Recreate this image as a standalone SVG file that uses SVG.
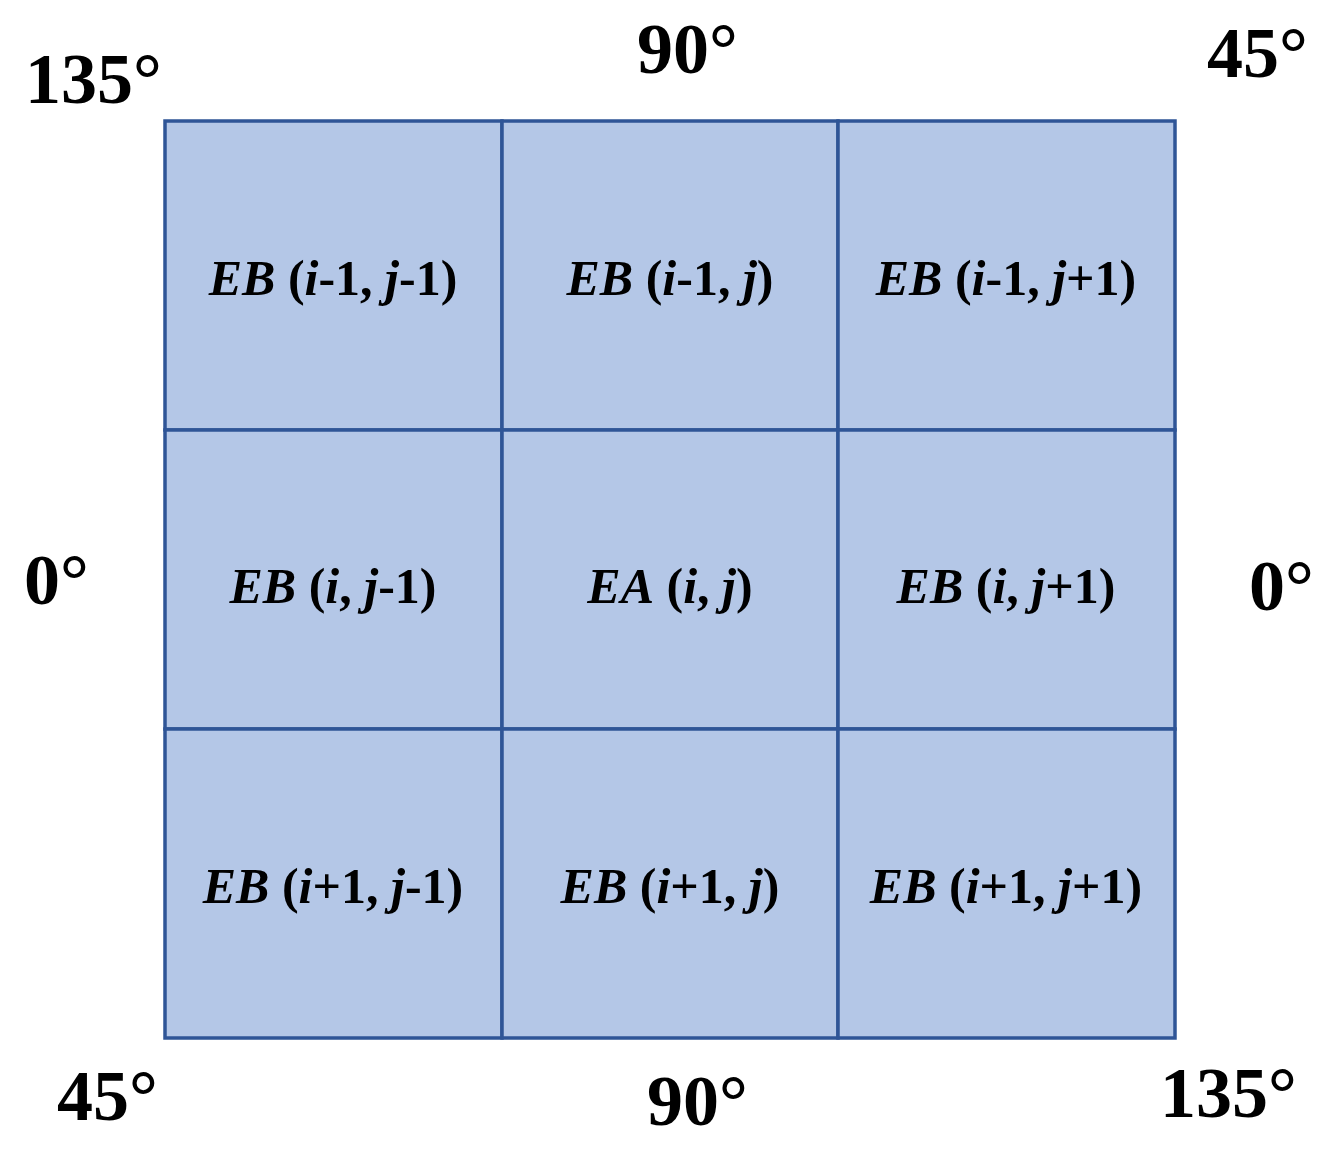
<svg xmlns="http://www.w3.org/2000/svg" width="1336" height="1160" viewBox="0 0 1336 1160">
<style>
.cell{fill:#b4c7e7;stroke:#2f5597;stroke-width:3.5}
.lbl{font-family:"Times New Roman",Tinos,"Liberation Serif",Times,serif;font-weight:bold;font-size:50px;fill:#000;text-anchor:middle}
.it{font-style:italic}
.deg{font-family:"Times New Roman",Tinos,"Liberation Serif",Times,serif;font-weight:bold;font-size:72px;fill:#000}
</style>
<rect x="0" y="0" width="1336" height="1160" fill="#fff"/>
<g id="n00"><rect class="cell" x="165" y="121" width="337" height="309"/><text class="lbl" x="333" y="295"><tspan class="it">EB</tspan> (<tspan class="it">i</tspan>-1, <tspan class="it">j</tspan>-1)</text></g>
<g id="n01"><rect class="cell" x="502" y="121" width="336" height="309"/><text class="lbl" x="670" y="295"><tspan class="it">EB</tspan> (<tspan class="it">i</tspan>-1, <tspan class="it">j</tspan>)</text></g>
<g id="n02"><rect class="cell" x="838" y="121" width="337" height="309"/><text class="lbl" x="1006" y="295"><tspan class="it">EB</tspan> (<tspan class="it">i</tspan>-1, <tspan class="it">j</tspan>+1)</text></g>
<g id="n10"><rect class="cell" x="165" y="430" width="337" height="299"/><text class="lbl" x="333" y="603"><tspan class="it">EB</tspan> (<tspan class="it">i</tspan>, <tspan class="it">j</tspan>-1)</text></g>
<g id="n11"><rect class="cell" x="502" y="430" width="336" height="299"/><text class="lbl" x="670" y="603"><tspan class="it">EA</tspan> (<tspan class="it">i</tspan>, <tspan class="it">j</tspan>)</text></g>
<g id="n12"><rect class="cell" x="838" y="430" width="337" height="299"/><text class="lbl" x="1006" y="603"><tspan class="it">EB</tspan> (<tspan class="it">i</tspan>, <tspan class="it">j</tspan>+1)</text></g>
<g id="n20"><rect class="cell" x="165" y="729" width="337" height="309"/><text class="lbl" x="333" y="903"><tspan class="it">EB</tspan> (<tspan class="it">i</tspan>+1, <tspan class="it">j</tspan>-1)</text></g>
<g id="n21"><rect class="cell" x="502" y="729" width="336" height="309"/><text class="lbl" x="670" y="903"><tspan class="it">EB</tspan> (<tspan class="it">i</tspan>+1, <tspan class="it">j</tspan>)</text></g>
<g id="n22"><rect class="cell" x="838" y="729" width="337" height="309"/><text class="lbl" x="1006" y="903"><tspan class="it">EB</tspan> (<tspan class="it">i</tspan>+1, <tspan class="it">j</tspan>+1)</text></g>
<g id="connectors"></g>
<g id="angles">
<text class="deg" x="25" y="103">135°</text>
<text class="deg" x="637" y="73">90°</text>
<text class="deg" x="1207" y="77">45°</text>
<text class="deg" x="24" y="604">0°</text>
<text class="deg" x="1249" y="610">0°</text>
<text class="deg" x="57" y="1120">45°</text>
<text class="deg" x="647" y="1125">90°</text>
<text class="deg" x="1160" y="1117">135°</text>
</g>
</svg>
